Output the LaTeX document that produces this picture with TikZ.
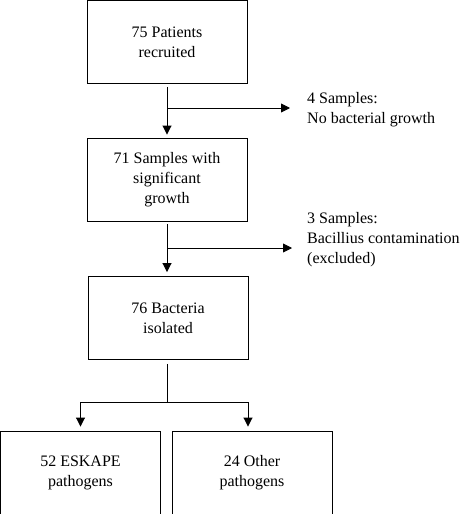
\documentclass[tikz,border=0pt]{standalone}
\usepackage{fontspec}
\setmainfont{Liberation Serif}
\usetikzlibrary{arrows.meta}

\begin{document}
\begin{tikzpicture}[x=1pt,y=-1pt,
	box/.style={draw, line width=0.9pt, minimum width=160pt, minimum height=83pt,
		align=center, inner sep=0pt, font=\fontsize{16}{20}\selectfont},
	note/.style={anchor=west, align=left, inner sep=0pt, font=\fontsize{16}{20}\selectfont},
	link/.style={line width=0.9pt},
	arr/.style={line width=0.9pt, -{Triangle[length=9pt,width=9pt]}}]

	\useasboundingbox (0,0) rectangle (464,514);

	\node[box] (patients) at (167,42) {75 Patients\\recruited};
	\node[box] (samples) at (167,179.5) {71 Samples with\\significant\\growth};
	\node[box] (bacteria) at (168,318) {76 Bacteria\\isolated};
	\node[box] (eskape) at (80.5,472.5) {52 ESKAPE\\pathogens};
	\node[box] (other) at (252,472.5) {24 Other\\pathogens};

	\node[note] (nogrowth) at (307,110) {4 Samples:\\No bacterial growth};
	\node[note] (bacillus) at (307,240) {3 Samples:\\Bacillius contamination\\(excluded)};

	\coordinate (b1) at (167,108);
	\coordinate (b2) at (167,248);
	\coordinate (fork) at (167,402);

	\draw[arr, shorten <=3pt, shorten >=3pt] (patients.south) -- (samples.north);
	\draw[arr, shorten >=17pt] (b1) -- (b1 -| nogrowth.west);
	\draw[arr, shorten <=3pt, shorten >=4pt] (samples.south) -- (bacteria.north -| samples.south);
	\draw[arr, shorten >=15pt] (b2) -- (b2 -| bacillus.west);

	\draw[link, shorten <=4pt] (bacteria.south -| fork) -- (fork);
	\draw[arr, shorten >=4pt] (fork) -| (eskape.north);
	\draw[arr, shorten >=4pt] (fork) -| ([xshift=-4pt]other.north);

\end{tikzpicture}
\end{document}
